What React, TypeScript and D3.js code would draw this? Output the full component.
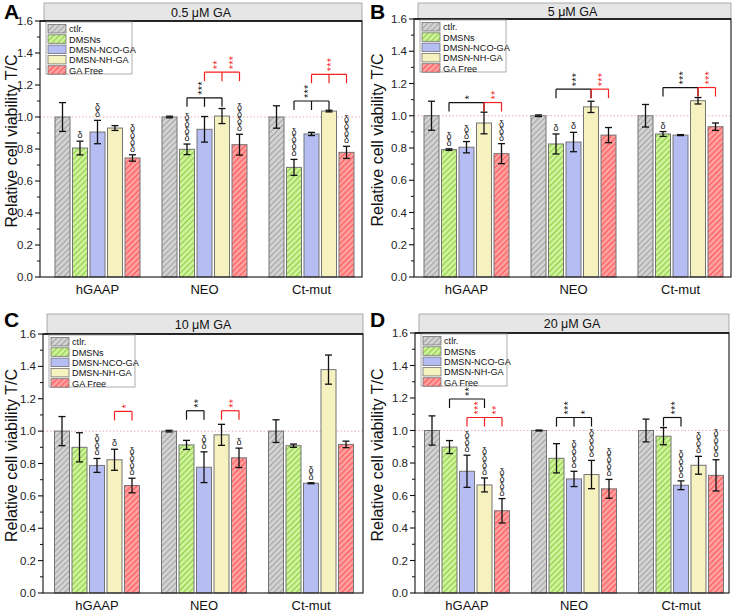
import React from "react";
import * as d3 from "d3";

// ---------- data ----------
const groups = ["hGAAP", "NEO", "Ct-mut"];
const seriesNames = ["ctlr.", "DMSNs", "DMSN-NCO-GA", "DMSN-NH-GA", "GA Free"];
const panelTitles = ["0.5 μM GA", "5 μM GA", "10 μM GA", "20 μM GA"];
const panelLetters = ["A", "B", "C", "D"];
const yTicks = [0, 0.2, 0.4, 0.6, 0.8, 1.0, 1.2, 1.4, 1.6];
const yMinorTicks = [0.1, 0.3, 0.5, 0.7, 0.9, 1.1, 1.3, 1.5];
const yAxisLabel = "Relative cell viability T/C";

// [series][group]
const meansA = [[1, 1, 1], [0.806, 0.798, 0.685], [0.906, 0.923, 0.894], [0.931, 1.006, 1.037], [0.744, 0.827, 0.779]];
const errA = [[0.09, 0.005, 0.07], [0.043, 0.033, 0.05], [0.073, 0.08, 0.01], [0.015, 0.047, 0.005], [0.02, 0.065, 0.038]];
const deltaA = [[0, 0, 0], [1, 4, 4], [2, 0, 0], [0, 0, 0], [4, 4, 4]];

const meansB = [[1, 1, 1], [0.79, 0.825, 0.887], [0.805, 0.837, 0.88], [0.955, 1.055, 1.093], [0.765, 0.88, 0.932]];
const errB = [[0.09, 0.005, 0.07], [0.005, 0.062, 0.015], [0.035, 0.06, 0.003], [0.067, 0.035, 0.02], [0.062, 0.047, 0.023]];
const deltaB = [[0, 0, 0], [2, 1, 1], [2, 1, 0], [0, 0, 0], [3, 0, 0]];

const meansC = [[1, 1, 1], [0.9, 0.915, 0.91], [0.788, 0.777, 0.678], [0.823, 0.977, 1.38], [0.664, 0.835, 0.918]];
const errC = [[0.09, 0.005, 0.07], [0.09, 0.028, 0.01], [0.043, 0.095, 0.003], [0.065, 0.065, 0.09], [0.045, 0.06, 0.02]];
const deltaC = [[0, 0, 0], [0, 0, 0], [3, 2, 2], [1, 0, 0], [4, 1, 0]];

const meansD = [[1, 1, 1], [0.898, 0.829, 0.965], [0.749, 0.702, 0.663], [0.665, 0.729, 0.786], [0.506, 0.641, 0.724]];
const errD = [[0.09, 0.003, 0.07], [0.04, 0.09, 0.053], [0.099, 0.047, 0.027], [0.043, 0.087, 0.055], [0.075, 0.058, 0.096]];
const deltaD = [[0, 0, 0], [0, 0, 0], [3, 4, 4], [4, 4, 3], [4, 4, 4]];

// significance brackets: group, level, from bar, to bar, middle legs, red?, star labels [position, text]
const bracketsA = [
  { group: 1, level: 1.12, from: 1, to: 3, mids: [2], red: false, stars: [[1.72, "***"]] },
  { group: 1, level: 1.28, from: 2, to: 4, mids: [3], red: true, stars: [[2.6, "**"], [3.5, "***"]] },
  { group: 2, level: 1.1, from: 1, to: 3, mids: [2], red: false, stars: [[1.68, "***"]] },
  { group: 2, level: 1.267, from: 2, to: 4, mids: [3], red: true, stars: [[3, "***"]] },
];
const bracketsB = [
  { group: 0, level: 1.082, from: 1, to: 3, mids: [], red: false, stars: [[2, "*"]] },
  { group: 0, level: 1.082, from: 3, to: 4, mids: [], red: true, stars: [[3.5, "**"]] },
  { group: 1, level: 1.165, from: 1, to: 3, mids: [], red: false, stars: [[2, "***"]] },
  { group: 1, level: 1.165, from: 3, to: 4, mids: [], red: true, stars: [[3.5, "***"]] },
  { group: 2, level: 1.175, from: 1, to: 3, mids: [], red: false, stars: [[2, "***"]] },
  { group: 2, level: 1.175, from: 3, to: 4, mids: [], red: true, stars: [[3.5, "***"]] },
];
const bracketsC = [
  { group: 0, level: 1.122, from: 3, to: 4, mids: [], red: true, stars: [[3.5, "*"]] },
  { group: 1, level: 1.126, from: 1, to: 2, mids: [], red: false, stars: [[1.5, "**"]] },
  { group: 1, level: 1.126, from: 3, to: 4, mids: [], red: true, stars: [[3.5, "**"]] },
];
const bracketsD = [
  { group: 0, level: 1.194, from: 1, to: 3, mids: [], red: false, stars: [[2, "**"]] },
  { group: 0, level: 1.08, from: 2, to: 4, mids: [3], red: true, stars: [[2.5, "***"], [3.5, "**"]] },
  { group: 1, level: 1.08, from: 1, to: 3, mids: [2], red: false, stars: [[1.5, "***"], [2.5, "*"]] },
  { group: 2, level: 1.08, from: 1, to: 2, mids: [], red: false, stars: [[1.5, "***"]] },
];

const panelMeans = [meansA, meansB, meansC, meansD];
const panelErrs = [errA, errB, errC, errD];
const panelDeltas = [deltaA, deltaB, deltaC, deltaD];
const panelBrackets = [bracketsA, bracketsB, bracketsC, bracketsD];

// ---------- layout & style ----------
const layout = [
  { left: 40, right: 362, top: 21, bottom: 277, stripTop: 3, xr: [44, 365], ox: 0, oy: 0 },
  { left: 414, right: 731, top: 19, bottom: 277, stripTop: 3, xr: [413, 734], ox: 366, oy: 0 },
  { left: 43, right: 363, top: 334, bottom: 593, stripTop: 314, xr: [43.5, 364.5], ox: 0, oy: 300 },
  { left: 415, right: 729, top: 333, bottom: 593, stripTop: 314, xr: [413.5, 734.5], ox: 366, oy: 300 },
];

const FONT = "'Liberation Sans', Arial, Helvetica, sans-serif";
const fills = ["url(#hatch0)", "url(#hatch1)", "#b6bdf3", "#f6f2bf", "url(#hatch4)"];
const hatchDefs = [
  { id: "hatch0", bg: "#d3d3d3", line: "#a3a3a3" },
  { id: "hatch1", bg: "#cff39a", line: "#8ccc44" },
  { id: "hatch4", bg: "#ffa0a0", line: "#ff5656" },
];
const RED = "#f51f1f";

// delta marks: one text, upright glyphs stacked in a vertical line, ending at `base`
function DeltaStack({ x, base, n }: { x: number; base: number; n: number }) {
  const fs = 9;
  return (
    <text
      x={x}
      y={base}
      textAnchor="end"
      fontSize={fs}
      fontFamily={FONT}
      fill="#222"
      style={{ writingMode: "vertical-rl", textOrientation: "upright", letterSpacing: "-3px" } as React.CSSProperties}
    >
      {"δ".repeat(n)}
    </text>
  );
}

// star marks: one rotated text, starting just above `base`
function StarStack({ x, base, text, fill }: { x: number; base: number; text: string; fill: string }) {
  const fs = 11;
  return (
    <text
      transform={`translate(${x + 0.57 * fs},${base}) rotate(-90)`}
      fontSize={fs}
      fontFamily={FONT}
      fill={fill}
      style={{ letterSpacing: "0.2px" }}
    >
      {text}
    </text>
  );
}

function Panel({ idx }: { idx: number }) {
  const L = layout[idx];
  const means = panelMeans[idx];
  const errs = panelErrs[idx];
  const deltas = panelDeltas[idx];
  const brackets = panelBrackets[idx];

  const x = d3.scaleBand<string>().domain(groups).range(L.xr as [number, number]).paddingInner(0).paddingOuter(0);
  const inner = d3.scaleBand<number>().domain(d3.range(seriesNames.length)).range([-42.5, 42.5]).paddingInner(1 / 7).paddingOuter(0);
  const y = d3.scaleLinear().domain([0, 1.6]).range([L.bottom, L.top]);

  const gc = (g: number) => (x(groups[g]) as number) + x.bandwidth() / 2;
  const barX = (g: number, s: number) => gc(g) + (inner(s) as number);
  const posX = (g: number, p: number) => gc(g) + (inner(0) as number) + inner.bandwidth() / 2 + p * inner.step();
  const bw = inner.bandwidth();

  const plotMidY = (L.top + L.bottom) / 2;

  return (
    <g>
      {/* panel letter */}
      <text x={L.ox + 4} y={L.oy + (idx < 2 ? 19 : 27)} fontSize={21} fontWeight="bold" fontFamily={FONT} fill="#000">
        {panelLetters[idx]}
      </text>
      {/* strip */}
      <rect x={L.left + 4} y={L.stripTop} width={L.right - L.left - 4} height={L.top - L.stripTop} fill="#e6e6e6" stroke="#9a9a9a" strokeWidth={0.8} />
      <text x={(L.left + L.right) / 2} y={(L.stripTop + L.top) / 2 + 4.5} textAnchor="middle" fontSize={12.5} fontFamily={FONT} fill="#111">
        {panelTitles[idx]}
      </text>
      {/* reference line at 1.0 */}
      <line x1={L.left} x2={L.right} y1={y(1)} y2={y(1)} stroke="#e3a6a6" strokeWidth={0.9} strokeDasharray="1.5,2" />
      {/* bars */}
      {means.map((row, s) =>
        row.map((v, g) => (
          <rect key={`b${s}-${g}`} x={barX(g, s)} y={y(v)} width={bw} height={y(0) - y(v)} fill={fills[s]} stroke="#747474" strokeWidth={1} />
        ))
      )}
      {/* error bars */}
      {means.map((row, s) =>
        row.map((v, g) => {
          const cx = barX(g, s) + bw / 2;
          const e = errs[s][g];
          return (
            <g key={`e${s}-${g}`} stroke="#111" strokeWidth={1.3}>
              <line x1={cx} x2={cx} y1={y(v + e)} y2={y(v - e)} />
              <line x1={cx - 3.5} x2={cx + 3.5} y1={y(v + e)} y2={y(v + e)} />
              <line x1={cx - 3.5} x2={cx + 3.5} y1={y(v - e)} y2={y(v - e)} />
            </g>
          );
        })
      )}
      {/* delta marks */}
      {deltas.map((row, s) =>
        row.map((n, g) => {
          if (!n) return null;
          const cx = barX(g, s) + bw / 2;
          const base = y(means[s][g] + errs[s][g]) - 4;
          return <DeltaStack key={`d${s}-${g}`} x={cx} base={base} n={n} />;
        })
      )}
      {/* significance brackets */}
      {brackets.map((b, i) => {
        const col = b.red ? RED : "#111";
        const yy = y(b.level);
        const legs = [b.from, b.to, ...b.mids];
        return (
          <g key={`k${i}`}>
            <line x1={posX(b.group, b.from)} x2={posX(b.group, b.to)} y1={yy} y2={yy} stroke={col} strokeWidth={1.2} />
            {legs.map((p, j) => (
              <line key={j} x1={posX(b.group, p)} x2={posX(b.group, p)} y1={yy} y2={yy + 9} stroke={col} strokeWidth={1.2} />
            ))}
            {b.stars.map(([p, t], j) => (
              <StarStack key={`s${j}`} x={posX(b.group, p as number)} base={yy - 3} text={t as string} fill={col} />
            ))}
          </g>
        );
      })}
      {/* frame */}
      <rect x={L.left} y={L.top} width={L.right - L.left} height={L.bottom - L.top} fill="none" stroke="#111" strokeWidth={1.1} />
      <line x1={L.left} x2={L.right} y1={L.top} y2={L.top} stroke="#111" strokeWidth={1.6} />
      {/* y axis ticks */}
      {yTicks.map((t) => (
        <g key={`t${t}`}>
          <line x1={L.left - 5} x2={L.left} y1={y(t)} y2={y(t)} stroke="#111" strokeWidth={1.1} />
          <text x={L.left - 7} y={y(t) + 4} textAnchor="end" fontSize={11.5} fontFamily={FONT} fill="#222">
            {t.toFixed(1)}
          </text>
        </g>
      ))}
      {yMinorTicks.map((t) => (
        <line key={`m${t}`} x1={L.left - 3} x2={L.left} y1={y(t)} y2={y(t)} stroke="#111" strokeWidth={1} />
      ))}
      {/* x labels */}
      {groups.map((gname, g) => (
        <text key={gname} x={gc(g)} y={L.bottom + 17} textAnchor="middle" fontSize={13} fontFamily={FONT} fill="#111">
          {gname}
        </text>
      ))}
      {/* y axis label */}
      <text transform={`translate(${L.ox + 17},${plotMidY - 8}) rotate(-90)`} textAnchor="middle" fontSize={16} fontFamily={FONT} fill="#111">
        {yAxisLabel}
      </text>
      {/* legend */}
      <g transform={`translate(${L.left + 6},${L.top + 1})`}>
        <rect x={0} y={0} width={86} height={52} fill="#fff" stroke="#9a9a9a" strokeWidth={0.8} />
        {seriesNames.map((nm, s) => (
          <g key={nm} transform={`translate(2,${2.5 + s * 10.3})`}>
            <rect x={0} y={0} width={18} height={8.5} fill={fills[s]} stroke="#747474" strokeWidth={0.8} />
            <text x={21} y={7.8} fontSize={9.2} fontFamily={FONT} fill="#111">
              {nm}
            </text>
          </g>
        ))}
      </g>
    </g>
  );
}

export default function App() {
  return (
    <div style={{ position: "absolute", left: 0, top: 0 }}>
      <svg width={736} height={614} viewBox="0 0 736 614" style={{ display: "block", background: "#fff" }}>
        <defs>
          {hatchDefs.map((h) => (
            <pattern key={h.id} id={h.id} patternUnits="userSpaceOnUse" width={4} height={4} patternTransform="rotate(45)">
              <rect x={0} y={0} width={4} height={4} fill={h.bg} />
              <line x1={0.5} x2={0.5} y1={0} y2={4} stroke={h.line} strokeWidth={1.1} />
            </pattern>
          ))}
        </defs>
        {[0, 1, 2, 3].map((i) => (
          <Panel key={i} idx={i} />
        ))}
      </svg>
    </div>
  );
}
